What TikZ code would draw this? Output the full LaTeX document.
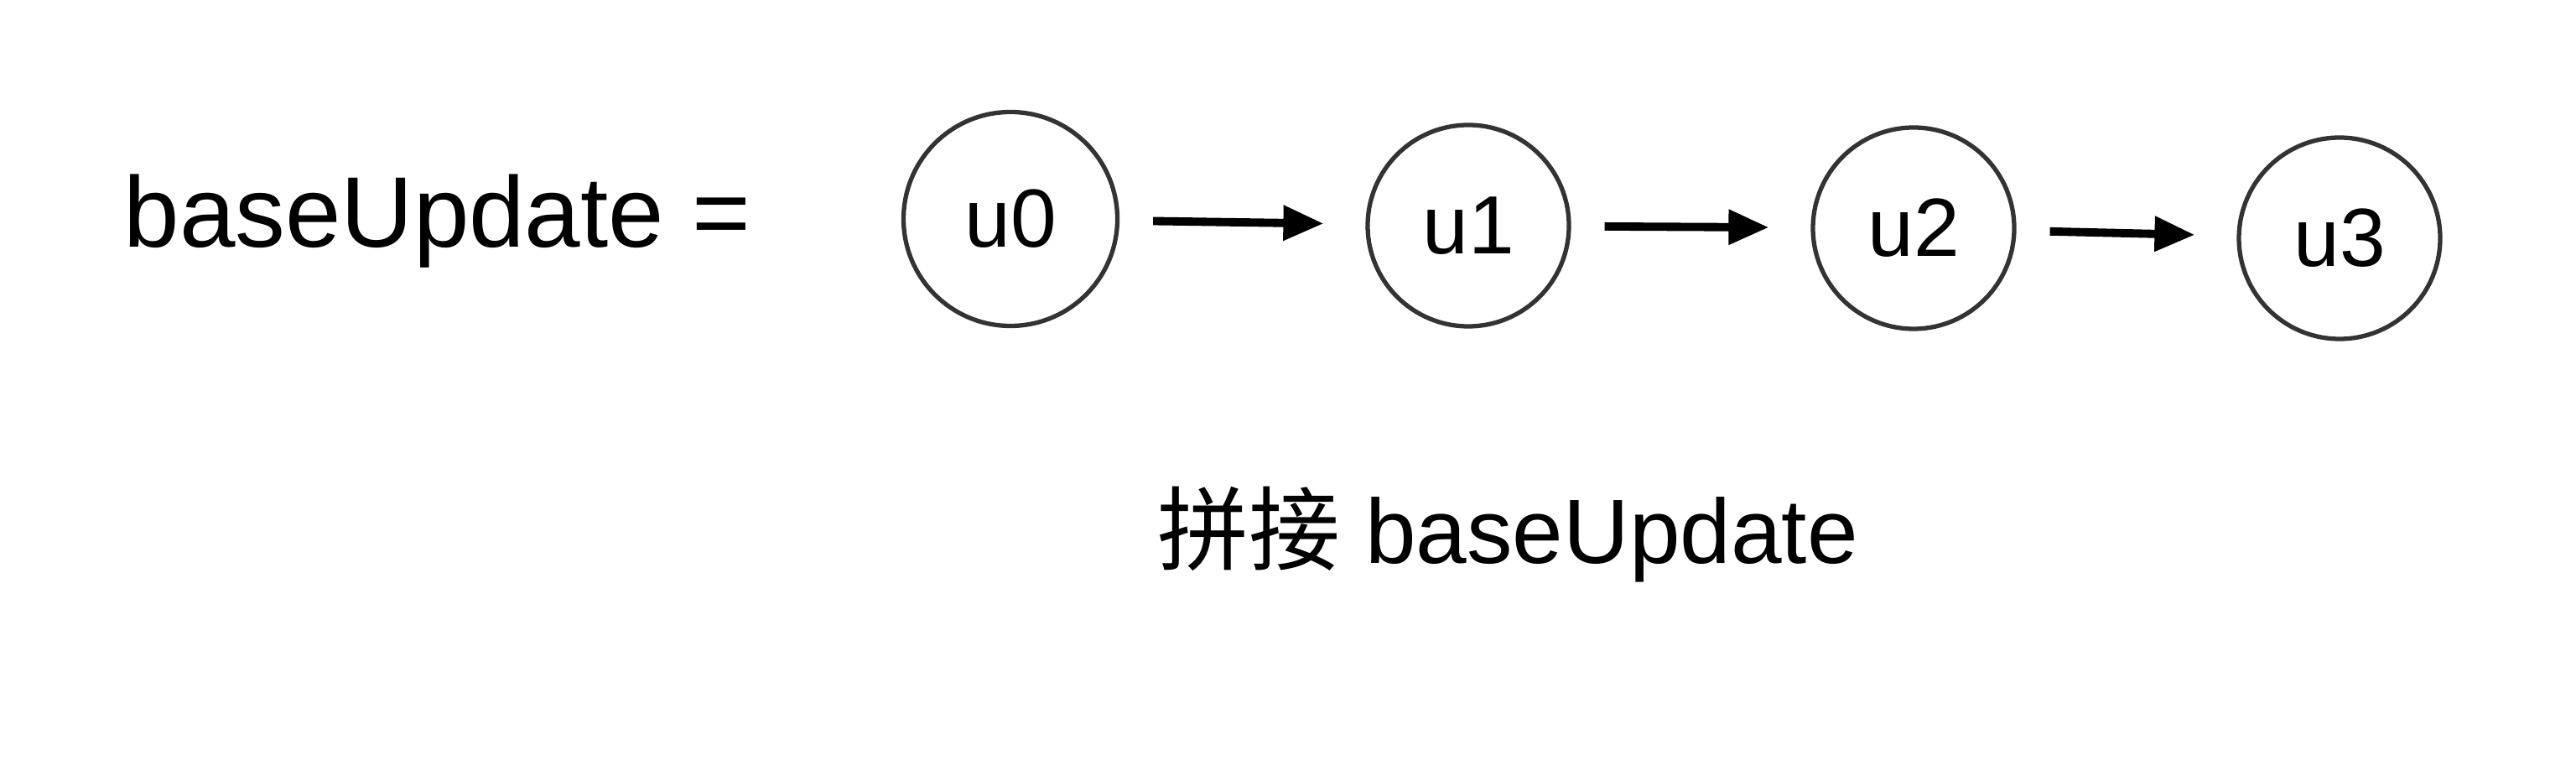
\documentclass[tikz,border=0pt]{standalone}
\usepackage{fontspec}
\setmainfont{Liberation Sans}
\newfontfamily\cjkfont{Noto Sans CJK SC}
\usepackage{tikz}
\usetikzlibrary{arrows.meta, positioning}
\tikzset{
  % Node styles
  updnode/.style={circle, draw=black!80, line width=1.5pt, minimum size=2.4cm, inner sep=0pt, font=\fontsize{28}{32}\selectfont},
  textnode/.style={inner sep=0pt, font=\fontsize{34}{40}\selectfont},
  % Arrow styles
  arrow/.style={-{Triangle[length=0.48cm, width=0.4cm]}, line width=2.8pt, black, shorten <=0.4cm, shorten >=0.5cm}
}
\begin{document}
\begin{tikzpicture}
  \useasboundingbox (0,0) rectangle (30.72,9.18);

  % Linked list of updates
  \node[textnode, anchor=west] (lhs) at (1.47,6.54) {baseUpdate =};
  \node[updnode, minimum size=2.55cm] (u0) at (12.05,6.57) {u0};
  \node[updnode] (u1) at (17.51,6.49) {u1};
  \node[updnode] (u2) at (22.82,6.46) {u2};
  \node[updnode] (u3) at (27.90,6.34) {u3};

  \draw[arrow] (u0) -- (u1);
  \draw[arrow] (u1) -- (u2);
  \draw[arrow] (u2) -- (u3);

  % Caption
  \node[textnode, font=\fontsize{31}{36}\selectfont] (caption) at (17.98,2.81) {{\cjkfont 拼接} baseUpdate};
\end{tikzpicture}
\end{document}
